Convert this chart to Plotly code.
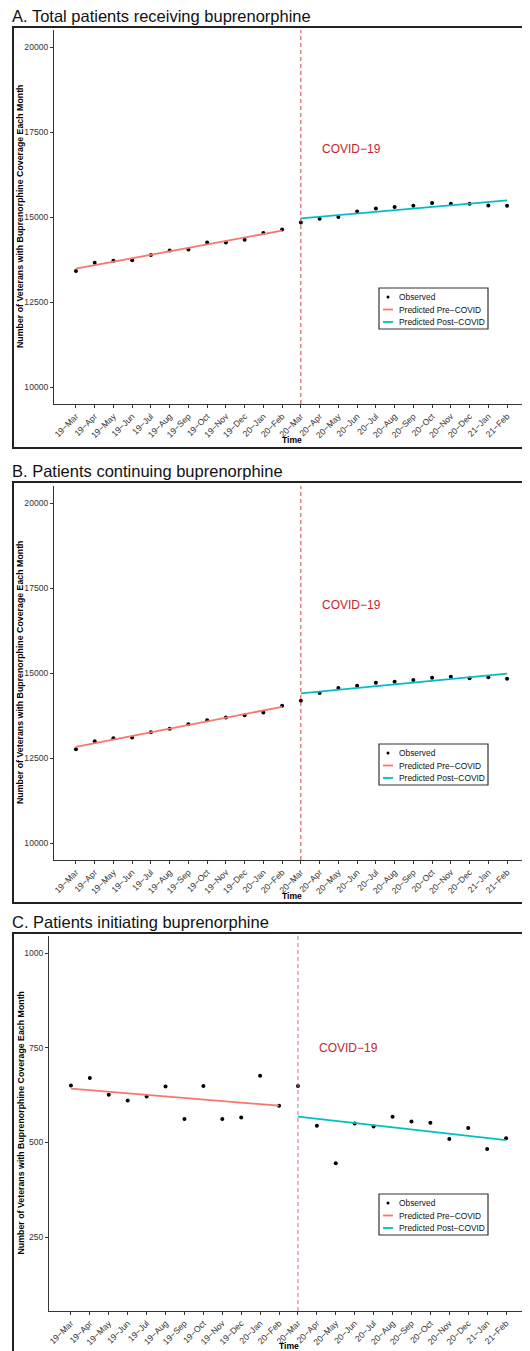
import plotly.graph_objects as go

# ---------------- data ----------------
months = ["19−Mar", "19−Apr", "19−May", "19−Jun", "19−Jul", "19−Aug", "19−Sep", "19−Oct",
          "19−Nov", "19−Dec", "20−Jan", "20−Feb", "20−Mar", "20−Apr", "20−May", "20−Jun",
          "20−Jul", "20−Aug", "20−Sep", "20−Oct", "20−Nov", "20−Dec", "21−Jan", "21−Feb"]
month_idx = list(range(1, 25))
pre_idx = [1, 12]
post_idx = [13, 24]

total_observed = [13414, 13657, 13716, 13725, 13881, 14017, 14046, 14251, 14251, 14329, 14533, 14630,
                  14835, 14951, 15000, 15165, 15253, 15292, 15331, 15409, 15389, 15389, 15341, 15331]
total_pre = [13482, 14601]
total_post = [14961, 15487]

cont_observed = [12756, 12993, 13081, 13101, 13258, 13357, 13494, 13613, 13691, 13760, 13839, 14036,
                 14183, 14410, 14557, 14626, 14715, 14744, 14793, 14862, 14892, 14843, 14872, 14833]
cont_pre = [12825, 14006]
cont_post = [14400, 14980]

init_observed = [650, 670, 626, 611, 621, 648, 562, 649, 562, 566, 676, 597,
                 649, 544, 445, 550, 542, 568, 555, 552, 509, 538, 483, 511]
init_pre = [642, 597]
init_post = [568, 506]

titles = ["A. Total patients receiving buprenorphine",
          "B. Patients continuing buprenorphine",
          "C. Patients initiating buprenorphine"]
y_ticks_big = [10000, 12500, 15000, 17500, 20000]
y_ticks_small = [250, 500, 750, 1000]
legend_labels = ["Observed", "Predicted Pre−COVID", "Predicted Post−COVID"]
covid_label = "COVID−19"
y_title = "Number of Veterans with Buprenorphine Coverage Each Month"
x_title = "Time"

# ---------------- styling ----------------
# the page body has an 8px default margin, so the figure is drawn 8px in from the window edge
OFF = 8
W, H = 530 - OFF, 1351 - OFF
FONT = "Liberation Sans, Arial, sans-serif"
PRE_COL = "#F8766D"
POST_COL = "#00BFC4"
AXIS_COL = "#333333"
COVID_COL = "#C4262E"


def py(px):
    return 1 - (px - OFF) / H


def px_x(px):
    return (px - OFF) / W


panels = [
    dict(obs=total_observed, pre=total_pre, post=total_post, yr=[9500, 20500], ticks=y_ticks_big,
         xdom=[54, 529], ytop=30, ybot=404, box=(27, 448), leg=288, time_y=440, covid_y=17000,
         xr=[-0.17, 25.17], vcol="#D04040"),
    dict(obs=cont_observed, pre=cont_pre, post=cont_post, yr=[9500, 20500], ticks=y_ticks_big,
         xdom=[54, 529], ytop=486, ybot=860, box=(482, 903), leg=744, time_y=896, covid_y=17000,
         xr=[-0.17, 25.17], vcol="#D04040"),
    dict(obs=init_observed, pre=init_pre, post=init_post, yr=[55, 1045], ticks=y_ticks_small,
         xdom=[49, 528], ytop=936, ybot=1311, box=(933, 1360), leg=1194, time_y=1346, covid_y=750,
         xr=[-0.16, 25.16], vcol="#DC6B6B"),
]

fig = go.Figure()
shapes = []
annotations = []
layout_axes = {}

for i, p in enumerate(panels):
    n = "" if i == 0 else str(i + 1)
    xa, ya = "x" + n, "y" + n
    fig.add_trace(go.Scatter(x=month_idx, y=p["obs"], mode="markers", xaxis=xa, yaxis=ya,
                             marker=dict(color="black", size=4), showlegend=False, name=legend_labels[0]))
    fig.add_trace(go.Scatter(x=pre_idx, y=p["pre"], mode="lines", xaxis=xa, yaxis=ya,
                             line=dict(color=PRE_COL, width=1.8), showlegend=False, name=legend_labels[1]))
    fig.add_trace(go.Scatter(x=post_idx, y=p["post"], mode="lines", xaxis=xa, yaxis=ya,
                             line=dict(color=POST_COL, width=1.8), showlegend=False, name=legend_labels[2]))

    layout_axes["xaxis" + n] = dict(
        domain=[px_x(p["xdom"][0]), min(1, px_x(p["xdom"][1]))], range=p["xr"], anchor=ya,
        tickmode="array", tickvals=month_idx, ticktext=months, tickangle=-45,
        tickfont=dict(size=8.6, color=AXIS_COL, family=FONT), ticks="outside", ticklen=3,
        tickcolor=AXIS_COL, showline=True, linecolor=AXIS_COL, linewidth=1, showgrid=False,
        zeroline=False, automargin=False, fixedrange=True)
    layout_axes["yaxis" + n] = dict(
        domain=[py(p["ybot"]), py(p["ytop"])], range=p["yr"], anchor=xa,
        tickmode="array", tickvals=p["ticks"], ticktext=[str(t) for t in p["ticks"]],
        tickfont=dict(size=8.6, color=AXIS_COL, family=FONT), ticks="outside", ticklen=3,
        tickcolor=AXIS_COL, showline=True, linecolor=AXIS_COL, linewidth=1, showgrid=False,
        zeroline=False, automargin=False, fixedrange=True)

    # panel frame
    shapes.append(dict(type="rect", xref="paper", yref="paper", x0=px_x(13), x1=px_x(545),
                       y0=py(p["box"][1]), y1=py(p["box"][0]), line=dict(color="#222222", width=2),
                       layer="below"))
    # covid line
    shapes.append(dict(type="line", xref=xa, yref=ya + " domain", x0=13, x1=13, y0=0, y1=1,
                       line=dict(color=p["vcol"], width=1, dash="4px,3px")))
    # title
    annotations.append(dict(text=titles[i], xref="paper", yref="paper", x=px_x(10),
                            y=py(p["box"][0]), xanchor="left", yanchor="bottom", showarrow=False,
                            font=dict(size=16.5, color="#111111", family=FONT)))
    # covid label
    annotations.append(dict(text=covid_label, xref=xa, yref=ya, x=14, y=p["covid_y"],
                            xanchor="left", yanchor="middle", showarrow=False,
                            font=dict(size=12, color=COVID_COL, family=FONT)))
    # axis titles
    ymid = (p["ytop"] + p["ybot"]) / 2
    annotations.append(dict(text="<b>" + y_title + "</b>", xref="paper", yref="paper", x=px_x(20),
                            y=py(ymid), xanchor="center", yanchor="middle", textangle=-90,
                            showarrow=False, font=dict(size=8.8, color="black", family=FONT)))
    xmid = (p["xdom"][0] + p["xdom"][1]) / 2
    annotations.append(dict(text="<b>" + x_title + "</b>", xref="paper", yref="paper", x=px_x(xmid),
                            y=py(p["time_y"]), xanchor="center", yanchor="middle",
                            showarrow=False, font=dict(size=8.6, color="black", family=FONT)))

    # legend (drawn manually)
    lt = p["leg"]
    shapes.append(dict(type="rect", xref="paper", yref="paper", x0=px_x(379), x1=px_x(488),
                       y0=py(lt + 41), y1=py(lt), line=dict(color="#333333", width=1.2),
                       fillcolor="white"))
    item_y = [lt + 9, lt + 21.5, lt + 34]
    shapes.append(dict(type="circle", xref="paper", yref="paper", x0=px_x(386.5), x1=px_x(389.5),
                       y0=py(item_y[0] + 1.5), y1=py(item_y[0] - 1.5), fillcolor="black",
                       line=dict(color="black", width=0)))
    shapes.append(dict(type="line", xref="paper", yref="paper", x0=px_x(383), x1=px_x(393),
                       y0=py(item_y[1]), y1=py(item_y[1]), line=dict(color=PRE_COL, width=1.8)))
    shapes.append(dict(type="line", xref="paper", yref="paper", x0=px_x(383), x1=px_x(393),
                       y0=py(item_y[2]), y1=py(item_y[2]), line=dict(color=POST_COL, width=1.8)))
    for lab, yy in zip(legend_labels, item_y):
        annotations.append(dict(text=lab, xref="paper", yref="paper", x=px_x(397), y=py(yy),
                                xanchor="left", yanchor="middle", showarrow=False,
                                font=dict(size=8.4, color="#111111", family=FONT)))

fig.update_layout(
    width=W, height=H, margin=dict(l=0, r=0, t=0, b=0),
    paper_bgcolor="white", plot_bgcolor="white", showlegend=False,
    font=dict(family=FONT), shapes=shapes, annotations=annotations, **layout_axes)

fig.write_html("out.html")
